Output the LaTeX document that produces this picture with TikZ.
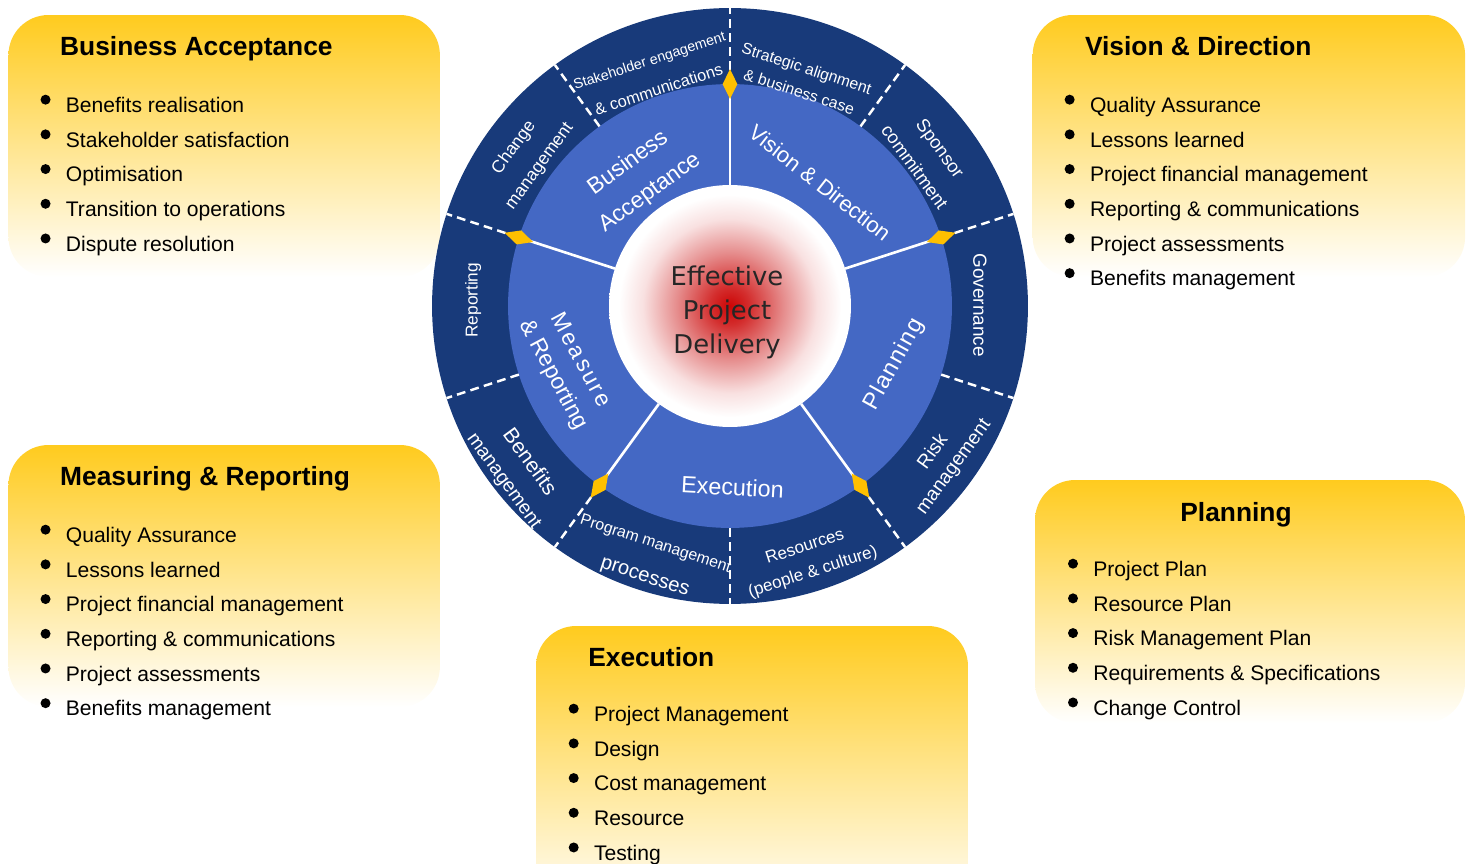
\documentclass[tikz,border=0pt]{standalone}
\usepackage{fontspec}
\setmainfont{Liberation Sans}
\newfontfamily\hubfont{DejaVu Sans}
\usepackage{tikz}
\usetikzlibrary{calc}
\definecolor{ringdark}{RGB}{24,58,122}
\definecolor{ringlight}{RGB}{68,104,196}
\definecolor{gold}{RGB}{255,192,0}
\definecolor{boxgold}{RGB}{255,203,30}
\pgfdeclareradialshading{hubglow}{\pgfpoint{0bp}{0bp}}{rgb(0bp)=(0.8,0.02,0.02); rgb(4bp)=(0.83,0.18,0.18); rgb(11bp)=(0.9,0.55,0.55); rgb(18bp)=(0.975,0.88,0.88); rgb(23bp)=(1,1,1); rgb(50bp)=(1,1,1)}
\tikzstyle{infobox} = [rounded corners=0.8cm,
	top color=boxgold,
	middle color=boxgold!40!white,
	bottom color=white,
	inner sep=0]
\tikzstyle{boxtitle} = [anchor=base west, inner sep=0, font=\fontsize{15}{18}\selectfont\bfseries]
\tikzstyle{listitem} = [anchor=base west, inner sep=0, font=\fontsize{12}{14}\selectfont]
\tikzstyle{spoke} = [white, line width=1.5pt]
\tikzstyle{divider} = [white, line width=1.4pt, dash pattern=on 5pt off 3pt]
\tikzstyle{ringtext} = [text=white, align=center, inner sep=0]
\newcommand{\itemlist}[3]{\foreach \txt [count=\k] in {#3}{
		\node (#1\k) [listitem] at ($(#2)+(0,{-34.7*(\k-1)})$) {\txt};
		\fill ($(#1\k.base west)+(-20,12.7)$) circle (0.1cm);}}
\newcommand{\golddiamond}[1]{\fill[gold] ($(C)+(#1:207)$) -- ($(C)+({#1+1.9}:222)$) -- ($(C)+(#1:237)$) -- ($(C)+({#1-1.9}:222)$) -- cycle}

\begin{document}
\begin{tikzpicture}[x=0.02cm, y=0.02cm]
		\useasboundingbox (0,0) rectangle (1471,863);
		
		\node (baBox) [infobox, minimum width=8.63cm, minimum height=5.24cm] at (224.2,717) {};
		\node (baTitle) [boxtitle] at ($(baBox.north west)+(51.7,-41)$) {Business Acceptance};
		\coordinate (baList) at ($(baBox.north west)+(57.4,-97.7)$);
		\itemlist{baItem}{baList}{Benefits realisation, Stakeholder satisfaction, Optimisation, Transition to operations, Dispute resolution};
		
		\node (vdBox) [infobox, minimum width=8.65cm, minimum height=5.24cm] at (1248.9,717) {};
		\node (vdTitle) [boxtitle] at ($(vdBox.north west)+(52.3,-41)$) {Vision \& Direction};
		\coordinate (vdList) at ($(vdBox.north west)+(57.3,-97.7)$);
		\itemlist{vdItem}{vdList}{Quality Assurance, Lessons learned, Project financial management, Reporting \& communications, Project assessments, Benefits management};
		
		\node (mrBox) [infobox, minimum width=8.63cm, minimum height=5.24cm] at (224.2,287) {};
		\node (mrTitle) [boxtitle] at ($(mrBox.north west)+(51.7,-41)$) {Measuring \& Reporting};
		\coordinate (mrList) at ($(mrBox.north west)+(57.4,-97.7)$);
		\itemlist{mrItem}{mrList}{Quality Assurance, Lessons learned, Project financial management, Reporting \& communications, Project assessments, Benefits management};
		
		\node (plBox) [infobox, minimum width=8.6cm, minimum height=4.86cm] at (1250,261.5) {};
		\node (plTitle) [boxtitle, anchor=base] at ($(plBox.north)+(-14,-41.7)$) {Planning};
		\coordinate (plList) at ($(plBox.north west)+(58.3,-96.7)$);
		\itemlist{plItem}{plList}{Project Plan, Resource Plan, Risk Management Plan, Requirements \& Specifications, Change Control};
		
		\node (exBox) [infobox, minimum width=8.64cm, minimum height=5.8cm] at (752,92) {};
		\node (exTitle) [boxtitle] at ($(exBox.north west)+(52.3,-40.7)$) {Execution};
		\coordinate (exList) at ($(exBox.north west)+(58,-95.7)$);
		\itemlist{exItem}{exList}{Project Management, Design, Cost management, Resource, Testing};
		
		\coordinate (C) at (730,557);
		\fill[ringdark] (C) circle (5.96cm);
		\fill[ringlight] (C) circle (4.44cm);
		\shade[shading=hubglow] (C) circle (2.42cm);
		\foreach \a in {18,90,...,306}
			\draw[spoke] ($(C)+(\a:121)$) -- ($(C)+(\a:222)$);
		\foreach \a in {18,54,...,342}
			\draw[divider] ($(C)+(\a:222)$) -- ($(C)+(\a:298)$);
		\foreach \a in {18,90,...,306}
			\golddiamond{\a};
		
		\node (stakeLbl) [ringtext, rotate=18, font=\fontsize{9.3}{17.6}\selectfont] at ($(C)+(108.2:243)$) {{\fontsize{8.1}{17.6}\selectfont Stakeholder engagement}\\\& communications};
		\node (strategyLbl) [ringtext, rotate=-18, font=\fontsize{9}{14}\selectfont] at ($(C)+(72.1:237.5)$) {Strategic alignment\\\& business case};
		\node (sponsorLbl) [ringtext, rotate=-54, font=\fontsize{10.4}{18}\selectfont] at ($(C)+(36.9:247)$) {Sponsor\\commitment};
		\node (govLbl) [ringtext, rotate=-90, font=\fontsize{10.8}{13}\selectfont] at ($(C)+(0.2:250)$) {Governance};
		\node (riskLbl) [ringtext, rotate=54, font=\fontsize{11}{14.5}\selectfont] at ($(C)+(-35.7:263)$) {Risk\\management};
		\node (resLbl) [ringtext, rotate=18, font=\fontsize{9.7}{15}\selectfont] at ($(C)+(-72.7:266)$) {Resources\\(people \& culture)};
		\node (progLbl) [ringtext, rotate=-18, font=\fontsize{11.5}{20}\selectfont] at ($(C)+(252.6:268)$) {{\fontsize{9}{20}\selectfont Program management}\\processes};
		\node (benLbl) [ringtext, rotate=-54, font=\fontsize{11}{17.5}\selectfont] at ($(C)+(217.8:270)$) {{\fontsize{12}{17.5}\selectfont Benefits}\\management};
		\node (repLbl) [ringtext, rotate=90, font=\fontsize{9.8}{12}\selectfont] at ($(C)+(178.7:257)$) {Reporting};
		\node (changeLbl) [ringtext, rotate=54, font=\fontsize{10}{18}\selectfont] at ($(C)+(143.7:252)$) {Change\\management};
		
		\node (baSeg) [ringtext, rotate=36, font=\fontsize{13}{21}\selectfont] at ($(C)+(125.4:157)$) {Business\\Acceptance};
		\node (vdSeg) [ringtext, rotate=-38, font=\fontsize{12.5}{15}\selectfont] at ($(C)+(53.8:152.4)$) {Vision \& Direction};
		\node (plSeg) [ringtext, rotate=61, font=\fontsize{13.3}{16}\selectfont\addfontfeature{LetterSpace=6}] at ($(C)+(-19.6:174.6)$) {Planning};
		\node (exSeg) [ringtext, rotate=-3, font=\fontsize{13.3}{16}\selectfont] at ($(C)+(-89.2:181)$) {Execution};
		\node (mrSeg) [ringtext, rotate=-62, font=\fontsize{13}{17.5}\selectfont] at ($(C)+(200.7:175)$) {{\addfontfeature{LetterSpace=10}Measure}\\\& Reporting};
		
		\node (hub) [align=center, inner sep=0, text=black!85, font=\hubfont\fontsize{14.7}{19.3}\selectfont] at ($(C)+(-3,-6)$) {Effective\\Project\\Delivery};
	\end{tikzpicture}
\end{document}
